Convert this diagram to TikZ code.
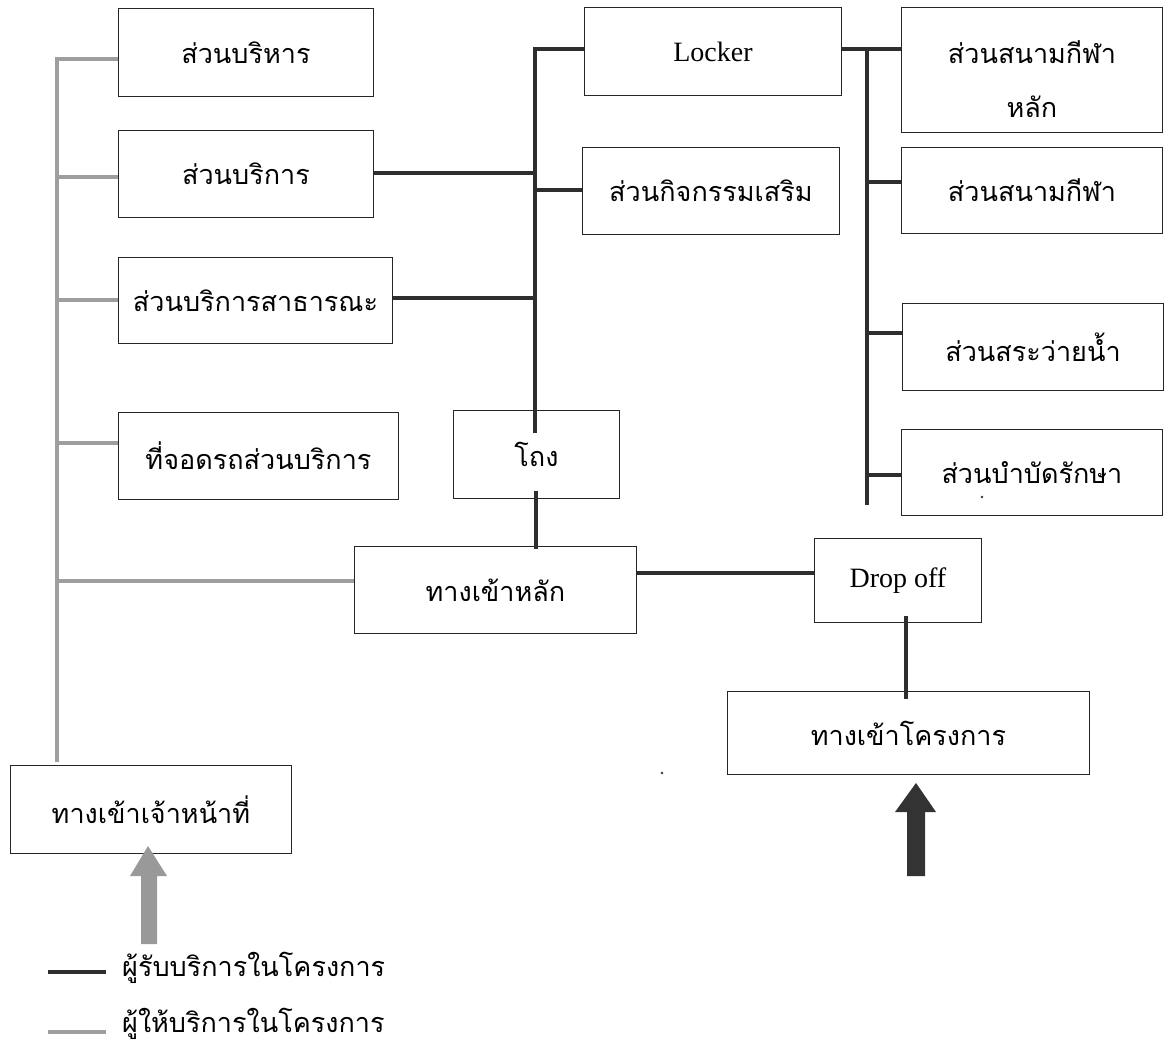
\documentclass[tikz,border=0pt]{standalone}
\usepackage{fontspec}
\setmainfont{Liberation Serif}
\newfontfamily\thai[Script=Thai]{Loma}
\begin{document}
\begin{tikzpicture}[x=1pt,y=-1pt,
  box/.style={draw=black!85, line width=0.9pt, inner sep=0pt, anchor=north west,
    font=\thai\fontsize{27}{54}\selectfont, align=center},
  label/.style={font=\thai\fontsize{27}{54}\selectfont, align=center, inner sep=0pt},
  latin/.style={font=\rmfamily\fontsize{28}{32}\selectfont},
  usr/.style={draw=black!82, line width=4pt},
  staff/.style={draw=black!38, line width=4pt},
  legtext/.style={font=\thai\fontsize{27}{30}\selectfont, anchor=west, inner sep=0pt}]
\useasboundingbox (0,0) rectangle (1165,1043);
% ---- boxes ----
\node[box, minimum width=255pt, minimum height=88pt] (A) at (118,8) {ส่วนบริหาร};
\node[box, minimum width=255pt, minimum height=87pt] (B) at (118,130) {ส่วนบริการ};
\node[box, minimum width=274pt, minimum height=86pt] (C) at (118,257) {ส่วนบริการสาธารณะ};
\node[box, minimum width=280pt, minimum height=87pt] (D) at (118,412) {ที่จอดรถส่วนบริการ};
\node[box, minimum width=166pt, minimum height=88pt] (E) at (453,410) {โถง};
\node[box, minimum width=282pt, minimum height=87pt] (F) at (354,546) {ทางเข้าหลัก};
\node[box, minimum width=257pt, minimum height=88pt, latin] (G) at (584,7) {Locker};
\node[box, minimum width=257pt, minimum height=87pt] (H) at (582,147) {ส่วนกิจกรรมเสริม};
\node[box, minimum width=261pt, minimum height=125pt] (I) at (901,7) {};
\node[label, yshift=-9pt] (Itext) at (I.center) {ส่วนสนามกีฬา\\หลัก};
\node[box, minimum width=261pt, minimum height=86pt] (J) at (901,147) {ส่วนสนามกีฬา};
\node[box, minimum width=261pt, minimum height=87pt] (K) at (902,303) {ส่วนสระว่ายน้ำ};
\node[box, minimum width=261pt, minimum height=86pt] (L) at (901,429) {ส่วนบำบัดรักษา};
\node[box, minimum width=167pt, minimum height=84pt, latin] (M) at (814,538) {Drop off};
\node[box, minimum width=362pt, minimum height=83pt] (N) at (727,691) {ทางเข้าโครงการ};
\node[box, minimum width=281pt, minimum height=88pt] (O) at (10,765) {ทางเข้าเจ้าหน้าที่};

% ---- staff routes (grey) ----
\coordinate (st) at (57,59);
\coordinate (sb) at (57,762);
\draw[staff] (A.west |- st) -- (st) -- (sb);
\draw[staff] (57,177) -- (B.west |- 0,177);
\draw[staff] (57,300) -- (C.west |- 0,300);
\draw[staff] (57,443) -- (D.west |- 0,443);
\draw[staff] (57,581) -- (F.west |- 0,581);

% ---- visitor routes (dark) ----
\coordinate (mt) at (535,49);
\coordinate (mb) at (535,433);
\draw[usr] (G.west |- mt) -- (mt) -- (mb);
\draw[usr] (B.east |- 0,173) -- (535,173);
\draw[usr] (C.east |- 0,298) -- (535,298);
\draw[usr] (535,190) -- (H.west |- 0,190);
\draw[usr] (536,491) -- (536,549);
\draw[usr] (F.east |- 0,573) -- (M.west |- 0,573);
\draw[usr] (906,616) -- (906,699);
\coordinate (rt) at (867,47);
\coordinate (rb) at (867,505);
\draw[usr] (rt) -- (rb);
\draw[usr] (G.east |- 0,49) -- (I.west |- 0,49);
\draw[usr] (867,182) -- (J.west |- 0,182);
\draw[usr] (867,333) -- (K.west |- 0,333);
\draw[usr] (867,475) -- (L.west |- 0,475);

% ---- entrance arrows ----
\fill[black!40] (148,846) -- (167,876) -- (157,876) -- (157,944) -- (141,944) -- (141,876) -- (130,876) -- cycle;
\fill[black!80] (916,783) -- (936,812) -- (925,812) -- (925,876) -- (907,876) -- (907,812) -- (895,812) -- cycle;

% ---- stray specks ----
\fill[black!80] (982,497) circle (1.4);
\fill[black!80] (662,773) circle (1.4);

% ---- legend ----
\coordinate (l1a) at (48,972);
\coordinate (l1b) at (106,972);
\coordinate (l2a) at (48,1032);
\coordinate (l2b) at (106,1032);
\draw[usr] (l1a) -- (l1b);
\draw[staff] (l2a) -- (l2b);
\node[legtext] (leg1) at (122,968) {ผู้รับบริการในโครงการ};
\node[legtext] (leg2) at (122,1024) {ผู้ให้บริการในโครงการ};
\end{tikzpicture}
\end{document}
